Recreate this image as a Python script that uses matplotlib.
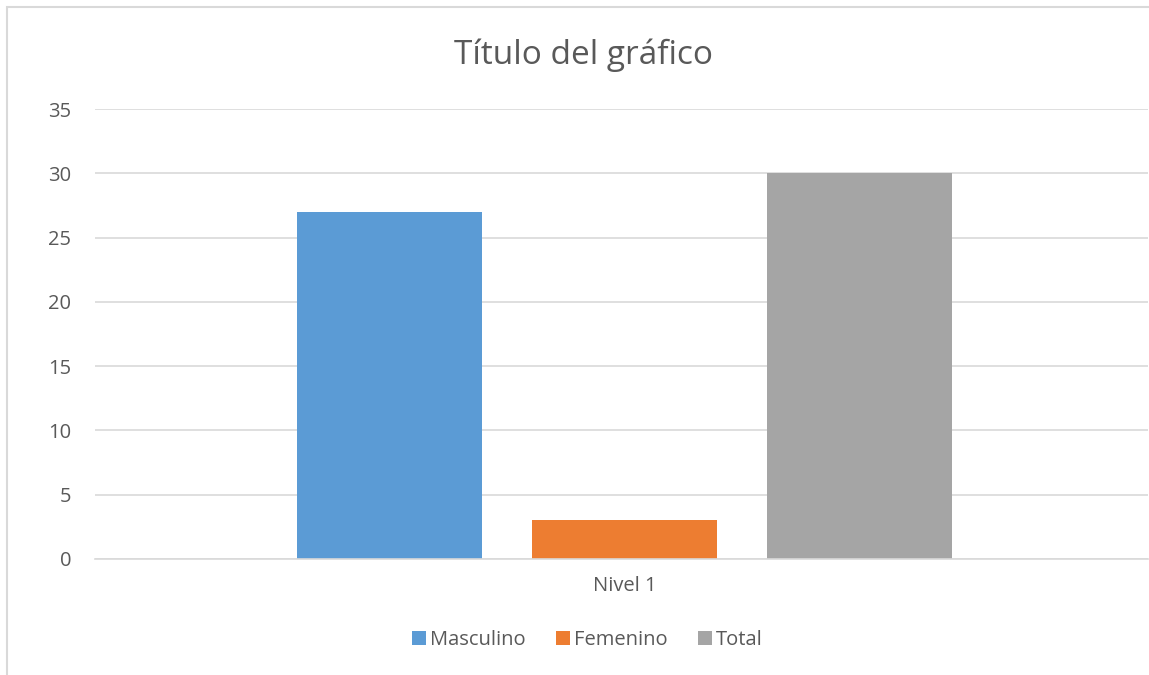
import matplotlib.pyplot as plt
from matplotlib.patches import Rectangle

series = ['Masculino', 'Femenino', 'Total']
values = [27, 3, 30]
colors = ['#5B9BD5', '#ED7D31', '#A5A5A5']
category = 'Nivel 1'
yticks = [0, 5, 10, 15, 20, 25, 30, 35]

plt.rcParams['font.family'] = ['Open Sans', 'DejaVu Sans']
txt = '#595959'

fig = plt.figure(figsize=(11.49, 6.75), dpi=100)
W, H = 1149, 675
ax = fig.add_axes([95 / W, (H - 559) / H, (1148 - 95) / W, (559 - 109) / H])

offsets = [-1, 0, 1]
for off, name, v, c in zip(offsets, series, values, colors):
    ax.bar(off, v, width=185 / 235, color=c, label=name, zorder=2)

ax.set_xlim((95 - 624.5) / 235, (1148 - 624.5) / 235)
ax.set_ylim(0, 35)
ax.set_yticks(yticks)
ax.set_xticks([0])
ax.set_xticklabels([category])
ax.tick_params(axis='both', length=0, labelsize=14.5, colors=txt)
ax.tick_params(axis='y', pad=17)
ax.tick_params(axis='x', pad=12)
ax.grid(axis='y', color='#D9D9D9', linewidth=1.2, zorder=0)
for s in ['left', 'right', 'top']:
    ax.spines[s].set_visible(False)
ax.spines['bottom'].set_color('#D9D9D9')
ax.spines['bottom'].set_linewidth(1.2)

fig.text(583 / W, 1 - 55 / H, 'Título del gráfico', ha='center', va='center',
         fontsize=24, color=txt)

leg = fig.legend(loc='center', bbox_to_anchor=(587 / W, 1 - 640 / H), ncol=3,
                 frameon=False, fontsize=14.5, handlelength=0.7, handleheight=0.7,
                 handletextpad=0.2, columnspacing=1.5)
for t in leg.get_texts():
    t.set_color(txt)

# chart border (cut off at right and bottom like the screenshot)
fig.patches.append(Rectangle((7 / W, -0.1), 1.2, 1 - 7 / H + 0.1,
                             transform=fig.transFigure, fill=False,
                             edgecolor='#D9D9D9', linewidth=1.5))

fig.savefig('out.png', dpi=100)
